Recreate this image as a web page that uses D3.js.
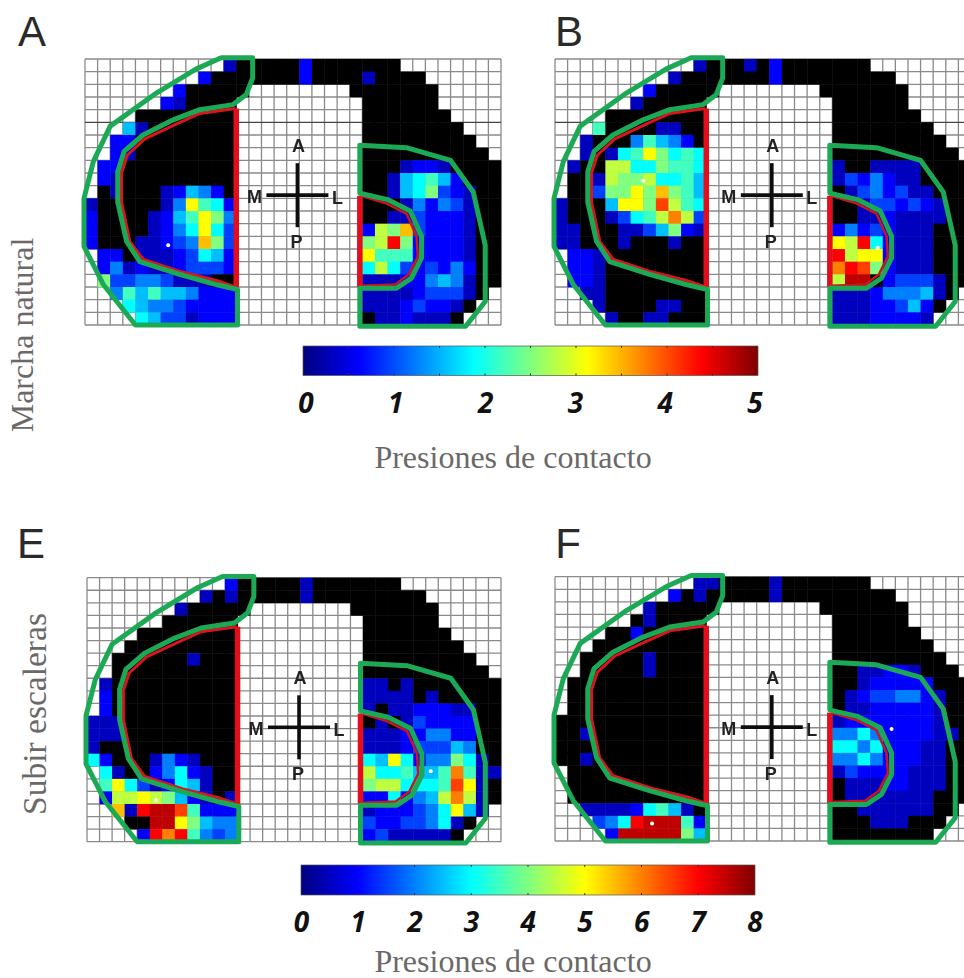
<!DOCTYPE html>
<html><head><meta charset="utf-8">
<script src="https://cdn.jsdelivr.net/npm/d3@7/dist/d3.min.js"></script>
<style>html,body{margin:0;padding:0;background:#fff;overflow:hidden}svg{display:block}</style>
</head><body><svg id="c" width="964" height="978"></svg>
<script>
// Cell levels: '.' no cell, '0' below range (black), 1..h = position on the colour bar (1 = bottom, h = top)
const aLeft=["...........20",".........3000",".......300000","......320000.","....00100000.","...620000000.","..3300000000.","..3200000000.",".33000000000.",".32000001000.",".12000236530.","20000125b873.","300002368b95.","311012357b74.","311122345c94.",".33122234763.",".35232234443.",".94455422210.","..5868665333.","...765543333.","....76442333."];
const aBridge=["001030000","000030001","........0"];
const aRight=["000........","20000......","000000.....","100000.....","1000000....","10000000...","100000000..","1000010000.","10123320000","10267863100","01267943200","01125354210","01224333210","3a9c4333210","9af93333210","b8883333210","7a743435310","22233565210","2222344420.","222343320..","02232220..."];
const bLeft=["...........20",".........2000",".......300000","......210000.","....00100000.","...810012200.","..2001586531.","..21278b9787.",".211aa779887.",".112a99a7786.",".10499b9c986.","21016bb9ea87.","20002478ada4.","221012246932.","221112001200.",".33210000000.",".33200000000.",".33200000000.","..2200001110.","...210012210.","....21122010."];
const bBridge=["002030000","000030001","........0"];
const bRight=["000........","00000......","000000.....","100000.....","1000000....","00000000...","000000000..","1000000000.","21122221000","24353221000","12453422100","01244343200","01223222210","35343222000","baf73222110","fabb3222110","dfe93222110","agg13444210","2223555620.","222334631..","22233332..."];
const eLeft=["...........30",".........2020",".......200000","......010000.","....00000000.","...000100000.","..0000002000.","..0000000000.",".21000000000.",".31000000000.",".31000000000.","222100000000.","222000000000.","210000100000.","731112532000.",".72113573211.",".8b742376210.",".3aaba963202.","..c2fgge8333.","...00ggb9655.","....3fdf8545."];
const eBridge=["000020000","000020000","........0"];
const eRight=["000........","00000......","000100.....","000000.....","0000000....","00000000...","000000000..","1100000000.","22120000000","22221200000","21223332200","12124333310","22233553310","22234446510","76b73559720","a778668d822","9aa7778eb20","337356ada20","2333457b62.","433445721..","34222220..."];
const fLeft=["...........22",".........3020",".......200000","......020000.","....00300000.","...000100000.","..0000020000.","..0000020000.",".00000000000.",".00000000000.",".00000000000.","000000000000.","002000000000.","000000000000.","002100000000.",".00000000001.",".00000000000.",".10000000000.","..2222378620.","...457fggg83.","....3ggggg96."];
const fBridge=["000020000","000020000","........0"];
const fRight=["000........","00000......","000000.....","000000.....","0000000....","00000000...","000111000..","0022332100.","00233333100","02344553210","12233333210","23333333210","55753333220","77573332210","55753332210","24333322210","02223322210","02222222110","0122222210.","001222100..","00000000..."];

const jetStops=[0,0.125,0.375,0.625,0.875,1];
const jetColors=["#00007f","#0000ff","#00ffff","#ffff00","#ff0000","#7f0000"];
const ticksTop=[0,1,2,3,4,5], marksTop=[0.5,1,1.5,2,2.5,3,3.5,4,4.5];
const ticksBottom=[0,1,2,3,4,5,6,7,8], marksBottom=[1,2,3,4,5,6,7];

// Outlines and markers, in grid units (column,row)
const outerLeft=[[13.3,-0.1],[10.8,-0.1],[8.8,0.8],[5.5,2.8],[2,5.3],[0.66,8.1],[-0.08,11],[-0.08,14.8],[1.45,17.8],[4,21],[12.1,21],[12.1,18.2],[10.4,17.8],[7.5,17],[4.35,16],[3.3,14.4],[2.6,11.3],[2.6,8.9],[3.1,7.3],[4.6,6],[7,4.8],[9.1,4],[11.75,3.6],[12.8,2.8],[13.3,1.5]];
const redLeft=[[11.95,3.9],[9.1,4.3],[7.1,5.2],[4.75,6.3],[3.35,7.6],[2.9,9],[2.9,11.3],[3.55,14.4],[4.6,15.8],[7.65,16.8],[10.5,17.5],[11.95,18]];
const redHeelEdge=[[12,3.9],[12,18.2]];
const outerRight=[[21.8,6.8],[25.5,7],[29,8],[30.8,10.5],[31.75,14.7],[31.75,19.15],[30.2,21.1],[21.8,21.1],[21.8,18.1],[24.7,18.1],[25.9,17.3],[26.7,15.7],[26.7,14],[25.8,12],[24,11.1],[21.8,10.6]];
const redRight=[[21.9,10.8],[23.9,11.4],[25.5,12.2],[26.3,14],[26.4,15.6],[25.7,17],[24.6,17.8],[21.9,17.9]];
const redMeniscusEdge=[[21.8,10.8],[21.8,18]];

const panelNames=["A","B","E","F"];
const panelData=[[aLeft,aBridge,aRight],[bLeft,bBridge,bRight],[eLeft,eBridge,eRight],[fLeft,fBridge,fRight]];
const panelMax=[5,5,8,8];
const panelX=[[85,501],[555,971],[87,501],[555,971]];
const panelY=[[59,325],[59,325],[577.7,841.7],[576.7,841]];
const crossRow=[10.75,10.75,11.9,11.95];
const crossCol=[16.85,17.2,16.9,17.2];
const dots=[[[6.6,14.7]],[[7,9.63],[25.6,14.9]],[[5.5,17.7],[27.4,15.4]],[[7.7,19.6],[26.7,12.1]]];
const letterX=[32,569,31,568], letterY=[46,46,558,558];

const COLS=33, ROWS=21, LAST=16;
const svg=d3.select("#c");
const defs=svg.append("defs");
defs.append("filter").attr("id","soft").attr("x","-5%").attr("y","-5%").attr("width","110%").attr("height","110%")
  .append("feGaussianBlur").attr("stdDeviation",0.7);

const jet=d3.scaleLinear().domain(jetStops).range(jetColors);
const line=d3.line();

panelNames.forEach((name,i)=>{
  const max=panelMax[i];
  const x=d3.scaleLinear().domain([0,COLS]).range(panelX[i]);
  const y=d3.scaleLinear().domain([0,ROWS]).range(panelY[i]);
  const color=d3.scaleLinear().domain([0,max]).range([0,1]);
  const [L,B,R]=panelData[i];
  const cells=[];
  L.forEach((l,r)=>{
    const row=l+(r<B.length?B[r]:".........")+R[r];
    row.split("").forEach((ch,c)=>{
      if(ch===".")return;
      const lev=parseInt(ch,36);
      cells.push({c,r,v:lev===0?0:(lev-1)/LAST*max});
    });
  });
  const g=svg.append("g").attr("filter","url(#soft)");
  const grid=g.append("g").attr("stroke","#8a8a8a").attr("stroke-width",1.3);
  grid.selectAll("line.v").data(d3.range(COLS+1)).join("line").attr("class","v")
    .attr("x1",d=>x(d)).attr("x2",d=>x(d)).attr("y1",y(0)).attr("y2",y(ROWS));
  grid.selectAll("line.h").data(d3.range(ROWS+1)).join("line").attr("class","h")
    .attr("x1",x(0)).attr("x2",x(COLS)).attr("y1",d=>y(d)).attr("y2",d=>y(d))
    .attr("stroke",d=>(d===5&&i<2)?"#444":null);
  g.selectAll("rect.cell").data(cells).join("rect").attr("class","cell")
    .attr("x",d=>x(d.c)).attr("y",d=>y(d.r))
    .attr("width",x(1)-x(0)+0.3).attr("height",y(1)-y(0)+0.3)
    .attr("fill",d=>d.v===0?"#000":jet(color(d.v)));
  const pts=a=>a.map(p=>[x(p[0]),y(p[1])]);
  const path=(a,col,w,close)=>g.append("path").attr("d",line(pts(a))+(close?"Z":"")).attr("fill","none")
    .attr("stroke",col).attr("stroke-width",w).attr("stroke-linejoin","round");
  path(redLeft,"#d8141e",3,false);
  path(redHeelEdge,"#e4101c",5.5,false);
  path(redRight,"#c8141e",2.5,false);
  path(redMeniscusEdge,"#e4101c",5.5,false);
  path(outerLeft,"#1ea956",5,true);
  path(outerRight,"#1ea956",5,true);
  g.selectAll("circle.dot").data(dots[i]).join("circle").attr("class","dot")
    .attr("cx",d=>x(d[0])).attr("cy",d=>y(d[1])).attr("r",2).attr("fill","#fff");
  // orientation cross
  const cx=x(crossCol[i]), cy=y(crossRow[i]);
  const arms=[[cx,cy-32,cx,cy+32],[cx-31,cy,cx+31,cy]];
  g.selectAll("line.arm").data(arms).join("line").attr("class","arm")
    .attr("x1",d=>d[0]).attr("y1",d=>d[1]).attr("x2",d=>d[2]).attr("y2",d=>d[3])
    .attr("stroke","#111").attr("stroke-width",3.6);
  const labels=[["A",1,-50],["P",-1,46],["M",-43,1],["L",40,2]];
  g.selectAll("text.dir").data(labels).join("text").attr("class","dir")
    .attr("x",d=>cx+d[1]).attr("y",d=>cy+d[2]).attr("dy","0.36em")
    .attr("text-anchor","middle").attr("font-family","Liberation Sans").attr("font-weight","bold")
    .attr("font-size",18).attr("fill","#222").text(d=>d[0]);
  svg.append("text").attr("x",letterX[i]).attr("y",letterY[i]).attr("text-anchor","middle")
    .attr("font-family","Liberation Sans").attr("font-size",42).attr("fill","#2a2a2a").text(name);
});

// colour bars
function colorBar(id,max,ticks,marks,x0,x1,tx0,tx1,y0,y1,labelY,titleY){
  const grad=defs.append("linearGradient").attr("id",id);
  grad.selectAll("stop").data(jetStops).join("stop")
    .attr("offset",d=>d).attr("stop-color",(d,i)=>jetColors[i]);
  const g=svg.append("g");
  g.append("rect").attr("x",x0).attr("y",y0).attr("width",x1-x0).attr("height",y1-y0)
    .attr("fill",`url(#${id})`).attr("stroke","#555").attr("stroke-width",0.7);
  const m=d3.scaleLinear().domain([0,max]).range([x0,x1]);
  g.selectAll("path.tk").data(marks).join("path").attr("class","tk")
    .attr("d",d=>`M${m(d)},${y0}v2M${m(d)},${y1}v-2`).attr("stroke","#333").attr("stroke-width",1);
  const t=d3.scaleLinear().domain([0,max]).range([tx0,tx1]);
  g.selectAll("text.tl").data(ticks).join("text").attr("class","tl")
    .attr("x",d=>t(d)).attr("y",labelY).attr("text-anchor","middle")
    .attr("font-family","Open Sans").attr("font-weight","bold").attr("font-style","italic")
    .attr("font-size",28).attr("fill","#111").text(d=>d);
  g.append("text").attr("x",513).attr("y",titleY).attr("text-anchor","middle")
    .attr("font-family","Liberation Serif").attr("font-size",32).attr("fill","#6c6868").text("Presiones de contacto");
}
colorBar("jetTop",5,ticksTop,marksTop,303,758,306,755,346,375.5,413,468);
colorBar("jetBot",8,ticksBottom,marksBottom,301,755,301.5,755,865,895,932,972);

const side=[["Marcha natural",33,335],["Subir escaleras",46,714]];
svg.selectAll("text.side").data(side).join("text").attr("class","side")
  .attr("transform",d=>`translate(${d[1]},${d[2]}) rotate(-90)`).attr("text-anchor","middle")
  .attr("font-family","Liberation Serif").attr("font-size",(d,i)=>i?33.5:32).attr("fill","#6c6868").text(d=>d[0]);
</script></body></html>
